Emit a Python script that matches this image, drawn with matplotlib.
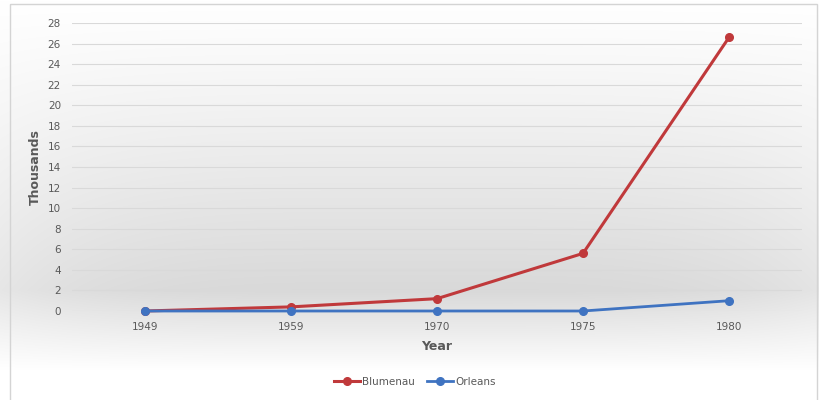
import numpy as np
import matplotlib.pyplot as plt
from matplotlib.patches import Rectangle

years = ["1949", "1959", "1970", "1975", "1980"]
blumenau = [0.0, 0.4, 1.2, 5.6, 26.6]
orleans = [0.0, 0.0, 0.0, 0.0, 1.0]
y_ticks = list(range(0, 29, 2))

red = "#C0393B"
blue = "#3F73C1"

fig = plt.figure(figsize=(8.2, 4.0), dpi=100)

# grey background gradient: white at top, darkest just above the x-axis, white at bottom
bg = fig.add_axes([0, 0, 1, 1], zorder=-10)
W, H = 820, 400
xx, yy = np.meshgrid(np.arange(W), np.arange(H))
rise = np.clip(yy / 290.0, 0, 1) ** 1.1
fall = np.clip((370.0 - yy) / 80.0, 0, 1)
f = np.where(yy < 290, rise, fall)
edge = 1.0 - 0.35 * (np.abs(xx - 415) / 415.0) ** 4
shade = 1.0 - 0.15 * f * edge
img = np.dstack([shade, shade, shade])
bg.imshow(img, extent=[0, W, H, 0], aspect="auto", interpolation="bilinear")
bg.set_xlim(0, W)
bg.set_ylim(H, 0)
bg.axis("off")
bg.add_patch(Rectangle((10, 4), 807, 400, fill=False, edgecolor="#d4d4d4", lw=1.0))

ax = fig.add_axes([72 / W, 1 - 311 / H, 730 / W, 288 / H])
ax.patch.set_alpha(0)
x = np.arange(len(years))
ax.plot(x, blumenau, color=red, lw=2.2, marker="o", ms=5.5, label="Blumenau",
        clip_on=False, zorder=3)
ax.plot(x, orleans, color=blue, lw=2.0, marker="o", ms=5.5, label="Orleans",
        clip_on=False, zorder=4)

ax.set_xlim(-0.5, len(years) - 0.5)
ax.set_ylim(0, 28)
ax.set_yticks(y_ticks)
ax.set_xticks(x)
ax.set_xticklabels(years)
ax.tick_params(axis="both", length=0, labelsize=7.5, labelcolor="#595959")
ax.tick_params(axis="y", pad=8)
ax.tick_params(axis="x", pad=8)
ax.grid(axis="y", color="#d9d9d9", lw=0.8)
ax.set_axisbelow(True)
for s in ax.spines.values():
    s.set_visible(False)

ax.set_ylabel("Thousands", fontsize=9, fontweight="bold", color="#595959", labelpad=4)
ax.set_xlabel("Year", fontsize=9, fontweight="bold", color="#595959", labelpad=6)

leg = fig.legend(loc="center", bbox_to_anchor=(415 / W, 1 - 382 / H), ncol=2,
                 frameon=False, fontsize=7.5, handlelength=2.5, columnspacing=1.2,
                 handletextpad=0.2)
for t in leg.get_texts():
    t.set_color("#595959")

fig.savefig("out.png", dpi=100)
